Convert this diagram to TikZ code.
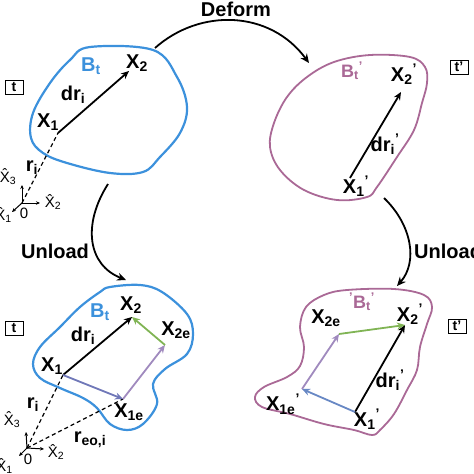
\documentclass[tikz,border=0pt]{standalone}
\usepackage{fontspec}
\setmainfont{Liberation Sans}
\usetikzlibrary{arrows.meta}
\definecolor{blobblue}{RGB}{60,145,220}
\definecolor{mauve}{RGB}{170,105,150}
\definecolor{vgreen}{RGB}{128,180,84}
\definecolor{slateb}{RGB}{112,120,184}
\definecolor{lilac}{RGB}{160,138,190}
\definecolor{skyb}{RGB}{104,136,196}
\tikzset{
  blobb/.style={draw=blobblue, line width=2.2pt},
  blobm/.style={draw=mauve, line width=1.8pt},
  vec/.style={line width=1.8pt, -{Stealth[length=8pt,width=7pt]}},
  procarrow/.style={line width=1.8pt, -{Stealth[length=9pt,width=8pt]}},
  dsh/.style={line width=1.2pt, dash pattern=on 4pt off 3pt},
  lbl/.style={font=\fontsize{20}{22}\selectfont\bfseries, inner sep=0pt},
  blbl/.style={font=\fontsize{20}{22}\selectfont\bfseries, inner sep=0pt},
  axl/.style={font=\fontsize{15}{17}\selectfont, inner sep=0pt},
  ax/.style={line width=1pt, -{Stealth[length=4pt,width=3.5pt]}},
  tbox/.style={draw, line width=1pt, font=\fontsize{14}{15}\selectfont\bfseries, inner sep=1pt, minimum height=14pt, minimum width=18pt},
}
\begin{document}
\begin{tikzpicture}[x=1pt,y=-1pt]
\useasboundingbox (0,0) rectangle (474,474);

% ---------- top-left blob ----------
\draw[blobb] plot[smooth cycle, tension=0.6] coordinates {
 (90,47) (153,50) (177,77) (187,107) (180,133) (160,157) (143,172)
 (110,173) (67,163) (43,153) (31,138) (33,113) (50,83) (70,60)};
\coordinate (TA1) at (58,133);
\coordinate (TA2) at (129,71);
\coordinate (TO) at (22,203);
\draw[vec] (TA1) -- (TA2);
\draw[dsh] (TO) -- (TA1);
\coordinate (TO3) at (22,185);
\coordinate (TO2) at (40,203);
\coordinate (TO1) at (12,212);
\draw[ax] (TO) -- (TO3);
\draw[ax] (TO) -- (TO2);
\draw[ax] (TO) -- (TO1);
\node[lbl, text=blobblue] (tlB) at (91,66) {B\textsubscript{t}};
\node[lbl] (tlX2) at (137,63) {X\textsubscript{2}};
\node[lbl] (tldr) at (73,95) {dr\textsubscript{i}};
\node[lbl] (tlX1) at (48,122) {X\textsubscript{1}};
\node[lbl] (tlr) at (32,168) {r\textsubscript{i}};
\node[axl] (tlh3) at (8,177) {\^{X}\textsubscript{3}};
\node[axl] (tlh2) at (53,202) {\^{X}\textsubscript{2}};
\node[axl] (tl0) at (24,213) {0};
\node[axl, anchor=east] (tlh1) at (12,215) {\^{X}\textsubscript{1}};
\node[tbox] (tlt) at (14,87) {t};

% ---------- top-right blob ----------
\draw[blobm] plot[smooth cycle, tension=0.6] coordinates {
 (334,62) (370,55) (410,57) (425,67) (427,83) (422,103) (414,130)
 (397,157) (377,187) (367,197) (337,200) (304,190) (280,170)
 (270,147) (274,123) (287,97) (307,77)};
\coordinate (RA1) at (350,178);
\coordinate (RA2) at (401,92);
\draw[vec] (RA1) -- (RA2);
\node[lbl, text=mauve, font=\fontsize{18}{20}\selectfont\bfseries] (trB) at (352,71) {B\textsubscript{t}\textsuperscript{'}};
\node[lbl] (trX2) at (404,74) {X\textsubscript{2}\textsuperscript{'}};
\node[lbl] (trdr) at (385,144) {dr\textsubscript{i}\textsuperscript{'}};
\node[lbl] (trX1) at (356,186) {X\textsubscript{1}\textsuperscript{'}};
\node[tbox] (trt) at (459,67) {t'};

% ---------- bottom-left blob ----------
\draw[blobb] plot[smooth cycle, tension=0.6] coordinates {
 (110,287) (140,285) (162,292) (187,314) (193,334) (187,354) (165,369)
 (153,384) (157,404) (143,424) (127,430) (110,424) (97,408) (83,398)
 (60,388) (40,378) (33,364) (40,347) (60,327) (80,307) (100,292)};
\coordinate (BX1) at (63,375);
\coordinate (BX2) at (132,317);
\coordinate (BX2e) at (165,345);
\coordinate (BX1e) at (123,399);
\coordinate (BO) at (27,448);
\draw[dsh] (BO) -- (BX1);
\draw[dsh] (BO) -- (BX1e);
\draw[vec] (BX1) -- (BX2);
\draw[vec, slateb] (BX1) -- (BX1e);
\draw[vec, lilac] (BX1e) -- (BX2e);
\draw[vec, vgreen] (BX2e) -- (BX2);
\coordinate (BO3) at (26,432);
\coordinate (BO2) at (44,449);
\coordinate (BO1) at (19,456);
\draw[ax] (BO) -- (BO3);
\draw[ax] (BO) -- (BO2);
\draw[ax] (BO) -- (BO1);
\node[lbl, text=blobblue] (blB) at (100,312) {B\textsubscript{t}};
\node[lbl] (blX2) at (131,305) {X\textsubscript{2}};
\node[lbl] (blX2e) at (176,330) {X\textsubscript{2e}};
\node[lbl] (bldr) at (83,336) {dr\textsubscript{i}};
\node[lbl] (blX1) at (52,366) {X\textsubscript{1}};
\node[lbl] (blX1e) at (129,412) {X\textsubscript{1e}};
\node[lbl] (blr) at (33,405) {r\textsubscript{i}};
\node[lbl] (blreo) at (90,440) {r\textsubscript{eo,i}};
\node[axl] (blh3) at (12,420) {\^{X}\textsubscript{3}};
\node[axl] (blh2) at (56,452) {\^{X}\textsubscript{2}};
\node[axl] (bl0) at (28,459) {0};
\node[axl, anchor=east] (blh1) at (13,466) {\^{X}\textsubscript{1}};
\node[tbox] (blt) at (14,328) {t};

% ---------- bottom-right blob ----------
\draw[blobm] plot[smooth cycle, tension=0.6] coordinates {
 (347,290) (394,289) (424,295) (432,307) (427,324) (420,347) (417,370)
 (407,390) (394,414) (380,430) (372,435) (354,430) (324,424) (290,414)
 (262,407) (255,397) (264,387) (287,377) (300,366) (304,347) (300,327)
 (306,307) (324,295)};
\coordinate (RX1) at (355,412);
\coordinate (RX2) at (405,325);
\coordinate (RX2e) at (339,334);
\coordinate (RX1e) at (302,389);
\draw[vec] (RX1) -- (RX2);
\draw[vec, skyb] (RX1) -- (RX1e);
\draw[vec, lilac] (RX1e) -- (RX2e);
\draw[vec, vgreen] (RX2e) -- (RX2);
\node[lbl, text=mauve, font=\fontsize{18}{20}\selectfont\bfseries] (brB) at (362,302) {\textsuperscript{'}B\textsubscript{t}\textsuperscript{'}};
\node[lbl] (brX2) at (410,314) {X\textsubscript{2}\textsuperscript{'}};
\node[lbl] (brX2e) at (326,318) {X\textsubscript{2e}};
\node[lbl] (brdr) at (390,380) {dr\textsubscript{i}\textsuperscript{'}};
\node[lbl] (brX1e) at (283,404) {X\textsubscript{1e}\textsuperscript{'}};
\node[lbl] (brX1) at (367,419) {X\textsubscript{1}\textsuperscript{'}};
\node[tbox] (brt) at (457,326) {t'};

% ---------- process arrows ----------
\coordinate (dS) at (155,48);
\coordinate (dE) at (309,63);
\draw[procarrow] (dS) .. controls (200,8) and (270,10) .. (dE);
\node[blbl] (deform) at (236,9) {Deform};

\coordinate (uLS) at (108,184);
\coordinate (uLE) at (126,280);
\draw[procarrow] (uLS) .. controls (82,225) and (88,265) .. (uLE);
\node[blbl] (unloadL) at (55,251) {Unload};

\coordinate (uRS) at (384,198);
\coordinate (uRE) at (397,286);
\draw[procarrow] (uRS) .. controls (412,225) and (418,262) .. (uRE);
\node[blbl, anchor=west] (unloadR) at (414,251) {Unload};
\end{tikzpicture}
\end{document}
